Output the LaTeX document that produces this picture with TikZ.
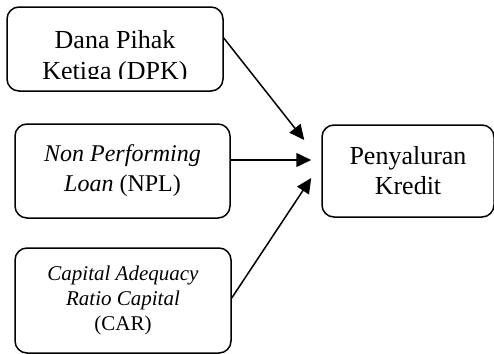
\documentclass[tikz,border=0pt]{standalone}
\usepackage{fontspec}
\setmainfont{Liberation Serif}
\usetikzlibrary{arrows.meta,positioning}

\begin{document}
\begin{tikzpicture}[
    x=0.5pt, y=-0.5pt,
    box/.style={draw, line width=0.75pt, rounded corners=6pt, align=center, inner sep=0pt},
    arrow/.style={-{Triangle[length=7.5pt, width=7pt]}, line width=0.75pt}
  ]
    \useasboundingbox (0,0) rectangle (494,354);
    \node[box, minimum width=108pt, minimum height=42pt] (dpk) at (115,49) {};
    \begin{scope}
      \clip (10,10) rectangle (220,78);
      \node[align=center, font=\fontsize{13}{15.5}\selectfont] (dpkText) at (115,58) {Dana Pihak\\Ketiga (DPK)};
    \end{scope}
    \node[box, minimum width=107.5pt, minimum height=47pt, font=\fontsize{12}{15}\selectfont] (npl) at (122.5,171) {\textit{Non Performing}\\\textit{Loan} (NPL)};
    \node[box, minimum width=108pt, minimum height=52.5pt, font=\fontsize{10.5}{12.5}\selectfont] (car) at (123,300.5) {\textit{Capital Adequacy}\\\textit{Ratio Capital}\\(CAR)};
    \node[box, minimum width=86pt, minimum height=46pt, font=\fontsize{13}{15}\selectfont] (kredit) at (408,171) {Penyaluran\\Kredit};
    \draw[arrow] ([shift={(0,-11)}]dpk.east) -- ([shift={(-17,-31)}]kredit.west);
    \draw[arrow] ([shift={(0,-11)}]npl.east) -- ([shift={(-10,-11)}]kredit.west);
    \draw[arrow] ([shift={(0,-2.5)}]car.east) -- ([shift={(-10,7)}]kredit.west);
  \end{tikzpicture}
\end{document}
